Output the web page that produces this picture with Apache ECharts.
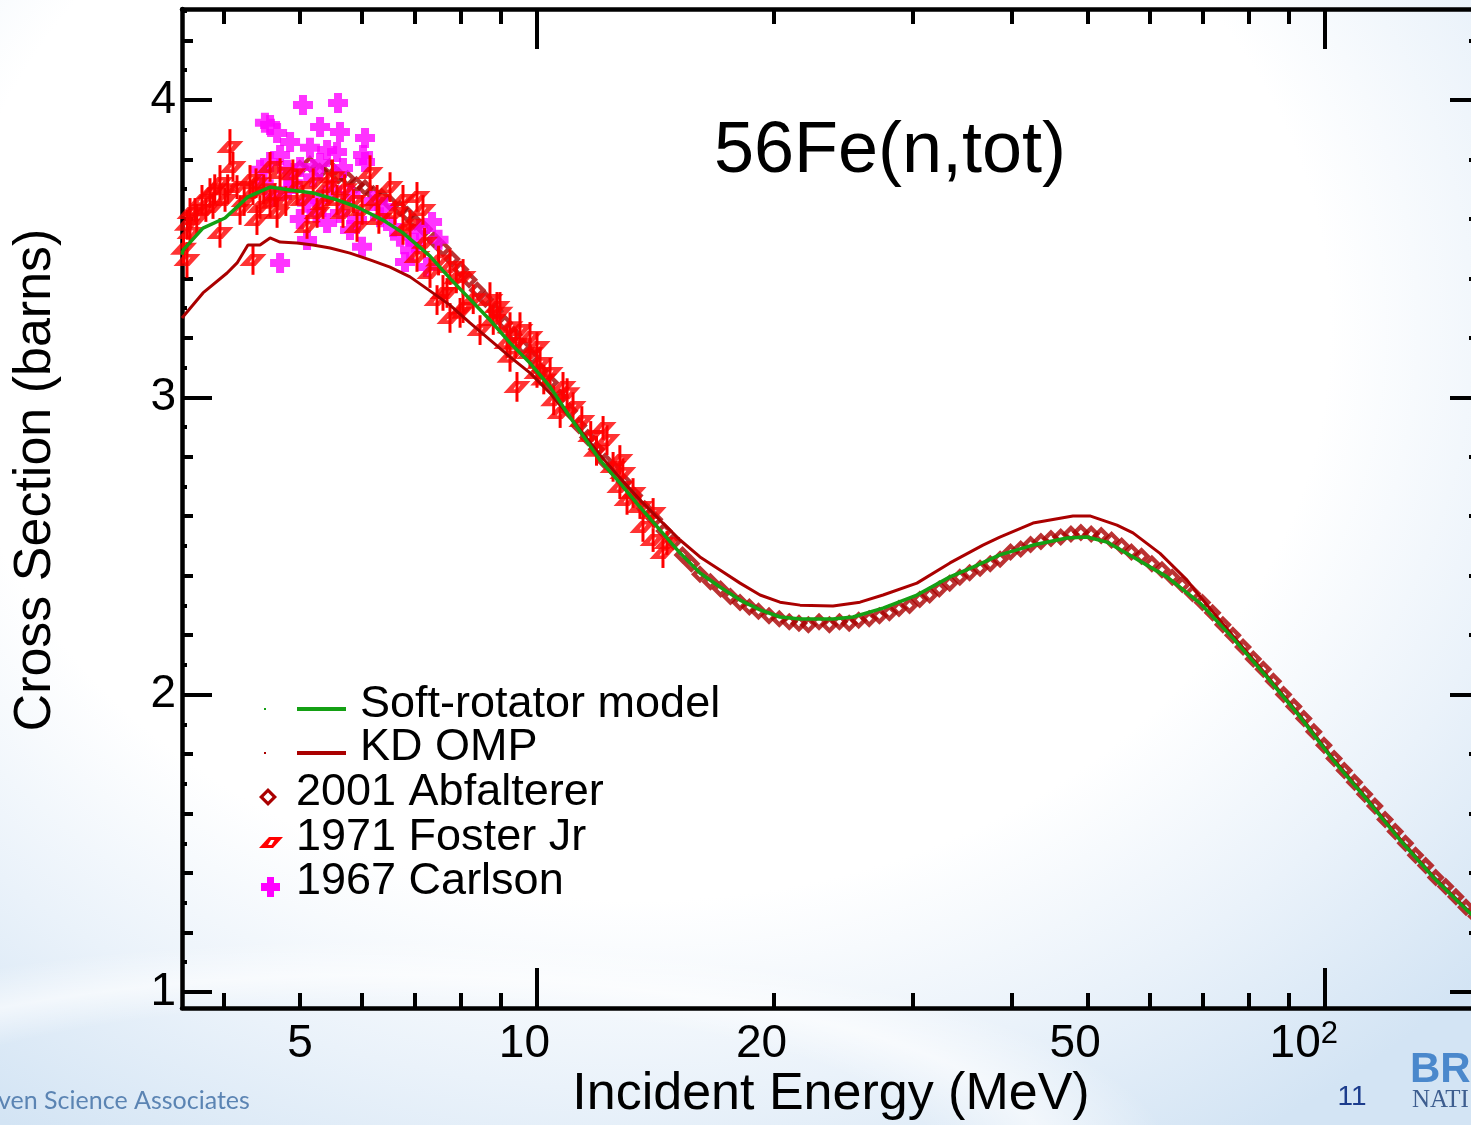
<!DOCTYPE html>
<html>
<head>
<meta charset="utf-8">
<title>56Fe(n,tot)</title>
<script src="https://cdn.jsdelivr.net/npm/echarts@6/dist/echarts.min.js"></script>
<style>
  html, body { margin: 0; padding: 0; width: 1471px; height: 1125px; overflow: hidden; }
  body {
    background:
      radial-gradient(ellipse 900px 250px at 380px 1160px, rgba(255,255,255,0) 62%, rgba(255,255,255,0.6) 74%, rgba(255,255,255,0) 88%),
      radial-gradient(ellipse 1150px 950px at 640px 330px, #ffffff 60%, #eaf2fa 80%, #d3e4f4 100%);
  }
  #chart { position: absolute; left: 0; top: 0; width: 1471px; height: 1125px; }
</style>
</head>
<body>
<div id="chart"></div>
<script>
// Axis ranges (energy in MeV on a log scale, cross section in barns)
const X_MIN = 3.544, X_MAX = 157.3;
const Y_MIN = 0.946, Y_MAX = 4.306;

// Tick positions and labels
const xMajorTicks = [10, 100];
const xMinorTicks = [4, 5, 6, 7, 8, 9, 20, 30, 40, 50, 60, 70, 80, 90];
const xLabelValues = [5, 10, 20, 50, 100];
const xLabelTexts = ['{b|5}', '{b|10}', '{b|20}', '{b|50}', '{b|10}{s|2}'];
const yMajorTicks = [1, 2, 3, 4];
const yEvenTenths = [1.2, 1.4, 1.6, 1.8, 2.2, 2.4, 2.6, 2.8, 3.2, 3.4, 3.6, 3.8, 4.2];
const yOddTenths = [1.1, 1.3, 1.5, 1.7, 1.9, 2.1, 2.3, 2.5, 2.7, 2.9, 3.1, 3.3, 3.5, 3.7, 3.9, 4.1, 4.3];

// Soft-rotator model calculation [E (MeV), sigma (b)]
const softRotator = [
  [3.544,3.48],[3.555,3.495],[3.768,3.569],[4.019,3.603],[4.297,3.674],[4.584,3.707],[4.86,3.697],
  [5.196,3.687],[5.575,3.664],[5.91,3.64],[6.377,3.596],[6.76,3.553],[7.315,3.475],[7.755,3.40],
  [8.222,3.33],[8.716,3.26],[9.242,3.183],[9.797,3.115],[10.39,3.035],[11.01,2.934],[12.02,2.789],
  [12.74,2.712],[13.51,2.631],[14.32,2.554],[15.19,2.476],[16.1,2.409],[17.07,2.362],[18.1,2.318],
  [19.19,2.285],[20.34,2.261],[21.57,2.254],[23.75,2.254],[25.18,2.261],[27.49,2.291],[30.35,2.335],
  [33.43,2.396],[35.75,2.429],[38.67,2.47],[42.61,2.503],[47.06,2.527],[49.89,2.53],[52.89,2.513],
  [57.06,2.463],[63.03,2.396],[69.4,2.308],[76.4,2.19],[84.4,2.059],[92.97,1.925],[102.4,1.78],
  [113.1,1.646],[124.5,1.511],[137.1,1.387],[151.4,1.275],[157.3,1.235]
];

// Koning-Delaroche optical model potential
const kdOmp = [
  [3.544,3.267],[3.768,3.351],[4.043,3.418],[4.163,3.452],[4.297,3.512],[4.451,3.512],[4.584,3.536],
  [4.72,3.522],[4.96,3.519],[5.196,3.512],[5.463,3.502],[5.79,3.485],[6.14,3.462],[6.509,3.438],
  [6.901,3.405],[7.315,3.358],[7.755,3.310],[8.222,3.250],[8.716,3.193],[9.242,3.136],[9.797,3.082],
  [10.39,3.014],[11.01,2.934],[12.02,2.806],[12.74,2.729],[13.51,2.655],[14.32,2.587],[15.19,2.520],
  [16.1,2.463],[17.07,2.419],[18.1,2.375],[19.19,2.335],[20.34,2.311],[21.57,2.301],[23.75,2.298],
  [25.7,2.311],[27.49,2.335],[30.35,2.375],[33.43,2.443],[36.81,2.503],[38.67,2.530],[42.61,2.577],
  [47.88,2.601],[50.31,2.601],[54.45,2.570],[57.06,2.544],[61.75,2.475],[66.83,2.385],[69.4,2.33],
  [72.5,2.27],[76.4,2.198],[84.4,2.064],[92.97,1.93],[102.4,1.785],[113.1,1.65],[124.5,1.515],
  [137.1,1.39],[151.4,1.278],[157.3,1.238]
];

// 2001 Abfalterer measurement
const abfalterer = [
  [5.0,3.77],[5.15,3.785],[5.3,3.76],[5.45,3.775],[5.6,3.745],[5.75,3.735],[5.9,3.715],[6.05,3.705],
  [6.2,3.685],[6.35,3.675],[6.5,3.655],[6.7,3.635],[6.85,3.615],[7.0,3.59],[7.2,3.565],[7.4,3.53],
  [7.6,3.50],[7.8,3.465],[8.0,3.43],[8.2,3.395],[8.4,3.36],[8.6,3.33],[8.85,3.29],[9.1,3.25],
  [9.35,3.21],[9.6,3.17],[9.85,3.135],[10.1,3.09],[10.4,3.05],[10.7,3.00],[11.0,2.955],[11.3,2.905],
  [11.6,2.865],[11.9,2.825],[12.2,2.785],[12.5,2.76],[12.9,2.715],[13.3,2.67],[13.7,2.625],[14.1,2.59],
  [14.5,2.55],[14.9,2.515],[15.3,2.47],[15.7,2.44],[16.1,2.405],[16.6,2.38],[17.1,2.355],[17.6,2.33],
  [18.1,2.31],[18.6,2.295],[19.1,2.28],[19.7,2.265],[20.3,2.255],[20.9,2.245],[21.5,2.24],[22.1,2.235],
  [22.8,2.245],[23.5,2.235],[24.2,2.245],[24.9,2.24],[25.6,2.25],[26.4,2.255],[27.2,2.265],[28.0,2.275],
  [28.8,2.29],[29.7,2.30],[30.6,2.32],[31.5,2.335],[32.4,2.355],[33.4,2.375],[34.4,2.395],[35.4,2.41],
  [36.5,2.425],[37.6,2.44],[38.7,2.455],[39.9,2.48],[41.1,2.49],[42.3,2.505],[43.6,2.515],[44.9,2.525],
  [46.2,2.53],[47.6,2.54],[49.0,2.545],[50.5,2.54],[52.0,2.535],[53.6,2.52],[55.2,2.50],[56.8,2.48],
  [58.5,2.465],[60.3,2.44],[62.1,2.42],[64.0,2.395],[65.9,2.37],[67.9,2.34],[69.9,2.31],[72.0,2.275],
  [74.2,2.235],[76.4,2.20],[78.7,2.16],[81.1,2.12],[83.5,2.085],[86.0,2.045],[88.6,2.00],[91.3,1.96],
  [94.0,1.92],[96.8,1.875],[99.7,1.83],[102.7,1.785],[105.8,1.745],[109.0,1.705],[112.3,1.665],
  [115.7,1.625],[119.2,1.58],[122.8,1.54],[126.5,1.50],[130.3,1.46],[134.2,1.425],[138.2,1.385],
  [142.3,1.355],[146.6,1.32],[151.0,1.285],[155.5,1.255]
];

// 1971 Foster Jr measurement [E, sigma, uncertainty]
const fosterJr = [
  [3.56,3.50,0.05],[3.596,3.462,0.06],[3.60,3.58,0.05],[3.628,3.553,0.04],[3.628,3.620,0.05],
  [3.681,3.630,0.04],[3.70,3.60,0.05],[3.757,3.664,0.05],[3.80,3.63,0.04],[3.846,3.687,0.05],
  [3.880,3.640,0.04],[3.90,3.70,0.05],[3.960,3.721,0.06],[3.960,3.553,0.05],[4.019,3.664,0.04],
  [4.05,3.70,0.05],[4.077,3.842,0.06],[4.113,3.775,0.05],[4.162,3.707,0.04],[4.199,3.630,0.05],
  [4.25,3.66,0.05],[4.323,3.731,0.05],[4.361,3.687,0.04],[4.361,3.462,0.05],[4.40,3.72,0.05],
  [4.412,3.596,0.05],[4.451,3.640,0.04],[4.50,3.70,0.05],[4.584,3.775,0.05],[4.584,3.654,0.05],
  [4.65,3.68,0.04],[4.679,3.620,0.05],[4.720,3.754,0.05],[4.80,3.66,0.05],[4.90,3.75,0.05],
  [4.960,3.707,0.06],[5.047,3.664,0.05],[5.107,3.573,0.04],[5.20,3.72,0.05],[5.259,3.620,0.05],
  [5.35,3.65,0.05],[5.415,3.707,0.05],[5.50,3.74,0.06],[5.575,3.664,0.05],[5.673,3.620,0.05],
  [5.70,3.70,0.05],[5.85,3.66,0.04],[5.910,3.573,0.05],[6.00,3.63,0.05],[6.140,3.754,0.06],
  [6.267,3.664,0.05],[6.30,3.60,0.05],[6.509,3.707,0.05],[6.60,3.62,0.04],[6.760,3.664,0.05],
  [6.760,3.563,0.05],[6.90,3.58,0.05],[7.042,3.674,0.05],[7.042,3.472,0.05],[7.166,3.630,0.05],
  [7.20,3.52,0.05],[7.315,3.418,0.05],[7.467,3.327,0.05],[7.50,3.46,0.05],[7.598,3.351,0.06],
  [7.688,3.351,0.05],[7.755,3.438,0.06],[7.755,3.267,0.05],[7.90,3.40,0.05],[7.987,3.284,0.05],
  [8.057,3.405,0.06],[8.057,3.300,0.05],[8.30,3.33,0.05],[8.467,3.226,0.05],[8.716,3.327,0.06],
  [8.80,3.26,0.05],[8.897,3.304,0.05],[8.975,3.284,0.07],[9.160,3.183,0.05],[9.242,3.236,0.05],
  [9.242,3.136,0.05],[9.40,3.18,0.05],[9.432,3.035,0.05],[9.515,3.226,0.06],[9.797,3.203,0.05],
  [9.797,3.149,0.05],[10.0,3.169,0.05],[10.0,3.082,0.05],[10.09,3.115,0.05],[10.2,3.06,0.05],
  [10.39,3.082,0.05],[10.5,2.99,0.05],[10.70,2.947,0.05],[10.79,3.035,0.05],[10.92,3.014,0.05],
  [11.11,2.967,0.05],[11.4,2.92,0.05],[11.7,2.87,0.05],[11.9,2.82,0.05],[12.13,2.897,0.04],
  [12.27,2.856,0.05],[12.49,2.766,0.05],[12.74,2.789,0.05],[12.74,2.698,0.04],[12.85,2.745,0.05],
  [13.01,2.655,0.05],[13.24,2.678,0.05],[13.51,2.631,0.04],[13.63,2.564,0.05],[14.04,2.611,0.05],
  [14.04,2.520,0.04],[14.45,2.476,0.05],[14.62,2.510,0.04]
];

// 1967 Carlson measurement
const carlson = [
  [4.451,3.765],[4.50,3.72],[4.516,3.923],[4.584,3.791],[4.584,3.916],[4.651,3.674],[4.679,3.889],
  [4.720,3.815],[4.720,3.452],[4.817,3.765],[4.831,3.697],[4.860,3.859],[4.90,3.72],[5.00,3.60],
  [5.004,3.775],[5.047,3.983],[5.107,3.654],[5.107,3.529],[5.151,3.839],[5.20,3.74],[5.25,3.62],
  [5.305,3.909],[5.305,3.788],[5.305,3.664],[5.415,3.832],[5.415,3.586],[5.50,3.70],[5.575,3.825],
  [5.591,3.990],[5.623,3.892],[5.623,3.620],[5.673,3.771],[5.790,3.563],[5.80,3.68],[5.910,3.596],
  [5.997,3.506],[6.015,3.815],[6.050,3.872],[6.050,3.791],[6.20,3.66],[6.321,3.606],[6.40,3.64],
  [6.566,3.573],[6.70,3.54],[6.80,3.455],[6.901,3.495],[7.00,3.52],[7.104,3.563],[7.251,3.438],
  [7.359,3.590],[7.50,3.53]
];

const FONT = '"Liberation Sans", Arial, Helvetica, sans-serif';
const GREEN = '#14a014';
const DARK_RED = '#aa0000';
const RED = '#ff0000';
const MAGENTA = '#ff00ff';
// marker outlines drawn as filled rings (outer shape plus an inner hole of opposite winding)
const PARALLELOGRAM_PATH = 'M0,10 L9,0 L22,0 L13,10 Z M8.2,7 L11.2,7 L13.8,3 L10.8,3 Z';
const DIAMOND_PATH = 'M8,0 L16,8 L8,16 L0,8 Z M8,5.4 L5.4,8 L8,10.6 L10.6,8 Z';
const PLUS_PATH = 'M6,0 H14 V6 H20 V14 H14 V20 H6 V14 H0 V6 H6 Z';

const chart = echarts.init(document.getElementById('chart'), null, { renderer: 'canvas' });

function xAxisDef(position, ticks, tickLen, withLine, extra) {
  return Object.assign({
    type: 'log', logBase: 10, min: X_MIN, max: X_MAX, position: position, gridIndex: 0,
    axisLine: { show: withLine, lineStyle: { color: '#000', width: 4.5 } },
    axisTick: { show: true, inside: true, length: tickLen, customValues: ticks,
                lineStyle: { color: '#000', width: 4 } },
    axisLabel: { show: false },
    splitLine: { show: false },
    minorTick: { show: false }
  }, extra || {});
}

function yAxisDef(position, ticks, tickLen, withLine, extra) {
  return Object.assign({
    type: 'value', min: Y_MIN, max: Y_MAX, position: position, gridIndex: 0,
    axisLine: { show: withLine, lineStyle: { color: '#000', width: 4.5 } },
    axisTick: { show: true, inside: true, length: tickLen, customValues: ticks,
                lineStyle: { color: '#000', width: 4 } },
    axisLabel: { show: false },
    splitLine: { show: false }
  }, extra || {});
}

function renderErrorBar(params, api) {
  const hi = api.coord([api.value(0), api.value(2)]);
  const lo = api.coord([api.value(0), api.value(1)]);
  return {
    type: 'line',
    shape: { x1: hi[0], y1: hi[1], x2: lo[0], y2: lo[1] },
    style: { stroke: RED, lineWidth: 3 }
  };
}

// Energy labels sit with their right edge just past the tick
function renderXLabel(params, api) {
  const pt = api.coord([api.value(0), Y_MIN]);
  return {
    type: 'text',
    x: pt[0] + 13,
    y: pt[1] + 35,
    style: {
      text: xLabelTexts[params.dataIndex],
      fill: '#000',
      align: 'right',
      verticalAlign: 'middle',
      rich: {
        b: { fontSize: 46, fontFamily: FONT, fill: '#000', verticalAlign: 'bottom', lineHeight: 48 },
        s: { fontSize: 31, fontFamily: FONT, fill: '#000', verticalAlign: 'top', lineHeight: 34 }
      }
    }
  };
}

function ring(outer, inner, color) {
  return [
    { type: 'polygon', shape: { points: outer }, style: { fill: color } },
    { type: 'polygon', shape: { points: inner }, style: { fill: '#ffffff' } }
  ];
}

const graphics = [
  { type: 'text', x: 890, y: 152, style: { text: '56Fe(n,tot)', fill: '#000', font: '72px ' + FONT, align: 'center', verticalAlign: 'middle' } },
  { type: 'text', x: 36, y: 480, rotation: Math.PI / 2, style: { text: 'Cross Section (barns)', fill: '#000', font: '52px ' + FONT, align: 'center', verticalAlign: 'middle' } },
  // legend
  { type: 'rect', shape: { x: 264, y: 708, width: 2, height: 2 }, style: { fill: GREEN } },
  { type: 'line', shape: { x1: 297, y1: 709, x2: 346, y2: 709 }, style: { stroke: GREEN, lineWidth: 4 } },
  { type: 'text', x: 360, y: 705, style: { text: 'Soft-rotator model', fill: '#000', font: '45px ' + FONT, verticalAlign: 'middle' } },
  { type: 'rect', shape: { x: 264, y: 752, width: 2, height: 2 }, style: { fill: DARK_RED } },
  { type: 'line', shape: { x1: 297, y1: 753, x2: 346, y2: 753 }, style: { stroke: DARK_RED, lineWidth: 4 } },
  { type: 'text', x: 360, y: 748, style: { text: 'KD OMP', fill: '#000', font: '45px ' + FONT, verticalAlign: 'middle' } },
  ...ring([[268, 788], [277, 797], [268, 806], [259, 797]], [[268, 792.5], [272.5, 797], [268, 801.5], [263.5, 797]], DARK_RED),
  { type: 'text', x: 296, y: 793, style: { text: '2001 Abfalterer', fill: '#000', font: '45px ' + FONT, verticalAlign: 'middle' } },
  ...ring([[259, 848], [269, 837], [283, 837], [273, 848]], [[268, 845], [271.5, 845], [274.5, 840], [271, 840]], RED),
  { type: 'text', x: 296, y: 838, style: { text: '1971 Foster Jr', fill: '#000', font: '45px ' + FONT, verticalAlign: 'middle' } },
  { type: 'polygon', shape: { points: [[267,877],[274,877],[274,883],[280,883],[280,891],[274,891],[274,897],[267,897],[267,891],[261,891],[261,883],[267,883]] }, style: { fill: MAGENTA } },
  { type: 'text', x: 296, y: 882, style: { text: '1967 Carlson', fill: '#000', font: '45px ' + FONT, verticalAlign: 'middle' } },
  // slide footer
  { type: 'text', x: -2, y: 1101, style: { text: 'ven Science Associates', fill: '#5b84b3', font: '25px Lato, "Open Sans", sans-serif', verticalAlign: 'middle' } },
  { type: 'text', x: 1352, y: 1097, style: { text: '11', fill: '#1c3c8c', font: '28px ' + FONT, align: 'center', verticalAlign: 'middle' } },
  { type: 'text', x: 1410, y: 1070, style: { text: 'BR', fill: '#4a88cc', font: 'bold 42px "Liberation Sans", Arial, sans-serif', verticalAlign: 'middle' } },
  { type: 'text', x: 1412, y: 1100, style: { text: 'NATI', fill: '#3d5d8f', font: '25px "Liberation Serif", "DejaVu Serif", serif', verticalAlign: 'middle' } }
];

const option = {
  backgroundColor: 'transparent',
  animation: false,
  grid: { left: 182, top: 9, width: 1298, height: 999, containLabel: false, outerBoundsMode: 'none' },
  xAxis: [
    xAxisDef('bottom', xMajorTicks, 40, true, {
      name: 'Incident Energy (MeV)', nameLocation: 'middle', nameGap: 61,
      nameTextStyle: { color: '#000', fontSize: 52, fontFamily: FONT }
    }),
    xAxisDef('bottom', xMinorTicks, 15, false),
    xAxisDef('top', xMajorTicks, 40, true),
    xAxisDef('top', xMinorTicks, 15, false)
  ],
  yAxis: [
    yAxisDef('left', yMajorTicks, 30, true, {
      axisLabel: { show: true, customValues: yMajorTicks, color: '#000', fontSize: 46, fontFamily: FONT, margin: 6 }
    }),
    yAxisDef('left', yEvenTenths, 11, false),
    yAxisDef('left', yOddTenths, 5, false),
    yAxisDef('right', yMajorTicks, 30, true),
    yAxisDef('right', yEvenTenths, 11, false),
    yAxisDef('right', yOddTenths, 5, false)
  ],
  series: [
    {
      name: '2001 Abfalterer', type: 'scatter', data: abfalterer, symbol: 'path://' + DIAMOND_PATH, symbolSize: 18,
      itemStyle: { color: DARK_RED }, z: 2
    },
    {
      name: '1967 Carlson', type: 'scatter', data: carlson, symbol: 'path://' + PLUS_PATH, symbolSize: 20,
      itemStyle: { color: MAGENTA }, z: 3
    },
    {
      name: '1971 Foster Jr uncertainty', type: 'custom', renderItem: renderErrorBar,
      data: fosterJr.map(p => [p[0], p[1] - p[2], p[1] + p[2]]),
      encode: { x: 0, y: [1, 2] }, z: 4
    },
    {
      name: '1971 Foster Jr', type: 'scatter', data: fosterJr.map(p => [p[0], p[1]]),
      symbol: 'path://' + PARALLELOGRAM_PATH, symbolSize: [27, 12],
      itemStyle: { color: RED }, z: 5
    },
    {
      name: 'KD OMP', type: 'line', data: kdOmp, showSymbol: false, symbol: 'none',
      lineStyle: { color: DARK_RED, width: 3 }, z: 6
    },
    {
      name: 'Soft-rotator model', type: 'line', data: softRotator, showSymbol: false, symbol: 'none',
      lineStyle: { color: GREEN, width: 3.5 }, z: 7
    },
    {
      name: 'energy labels', type: 'custom', renderItem: renderXLabel,
      data: xLabelValues.map(v => [v]), encode: { x: 0 }, clip: false, silent: true, z: 8
    }
  ],
  graphic: graphics
};

chart.setOption(option);
</script>
</body>
</html>
